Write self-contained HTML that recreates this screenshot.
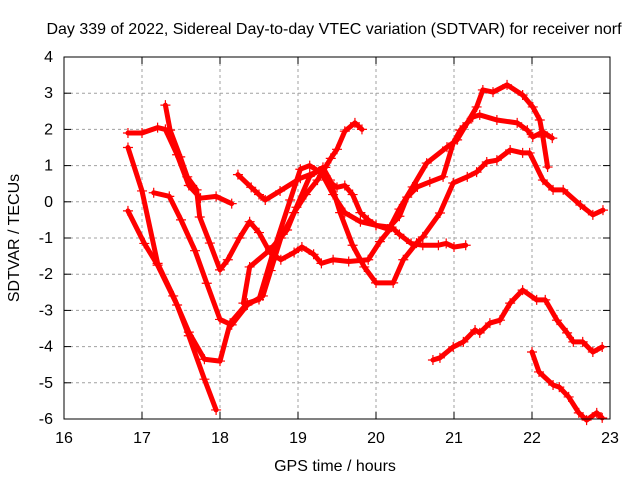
<!DOCTYPE html>
<html><head><meta charset="utf-8"><style>
body{margin:0;background:#fff}
svg text{font-family:"Liberation Sans",sans-serif;font-size:16px;fill:#000}
</style></head><body>
<svg id="chart" width="640" height="480" xmlns="http://www.w3.org/2000/svg">
<rect width="640" height="480" fill="#fff"/>
<text x="334" y="34" text-anchor="middle">Day 339 of 2022, Sidereal Day-to-day VTEC variation (SDTVAR) for receiver norf</text>
<text x="335" y="471" text-anchor="middle">GPS time / hours</text>
<text transform="translate(19,238) rotate(-90)" text-anchor="middle">SDTVAR / TECUs</text>
<g id="grid"></g>
<g id="series"></g>
<rect x="64" y="57" width="546" height="362" fill="none" stroke="#000" stroke-width="1"/>
</svg>
<script>
const xTicks=[16,17,18,19,20,21,22,23];
const yTicks=[-6,-5,-4,-3,-2,-1,0,1,2,3,4];
const seriesA=[[16.82,1.9],[17.0,1.9],[17.2,2.05],[17.3,2.0],[17.45,1.3],[17.6,0.45],[17.75,0.1],[17.95,0.15],[18.15,-0.05]];
const seriesB=[[17.3,2.67],[17.36,1.98],[17.49,1.24],[17.58,0.69],[17.7,0.33],[17.74,-0.42],[17.87,-1.14],[18.0,-1.88],[18.1,-1.6],[18.25,-1.0],[18.38,-0.55],[18.5,-0.85],[18.64,-1.4],[18.78,-1.6],[18.95,-1.4],[19.05,-1.25],[19.2,-1.45],[19.3,-1.7],[19.45,-1.6],[19.65,-1.65],[19.9,-1.6],[20.05,-1.1],[20.2,-0.7],[20.3,-0.9],[20.45,-1.15],[20.6,-1.2],[20.8,-1.2],[20.9,-1.15],[21.0,-1.25],[21.15,-1.2]];
const seriesC=[[16.82,1.5],[17.0,0.3],[17.2,-1.7],[17.4,-2.6],[17.6,-3.6],[17.8,-4.35],[18.0,-4.4],[18.13,-3.35],[18.35,-2.8],[18.5,-2.7],[18.68,-1.4],[18.9,0.05],[19.03,0.9],[19.15,1.0],[19.3,0.8],[19.45,0.2],[19.6,-0.3],[19.8,-0.55],[20.0,-0.65],[20.15,-0.75],[20.3,-0.4],[20.4,0.13],[20.53,0.41],[20.69,0.55],[20.86,0.69],[20.99,1.62],[21.08,1.98],[21.24,2.34],[21.33,2.4],[21.55,2.26],[21.81,2.18],[21.94,1.98],[22.01,1.79],[22.14,1.93],[22.26,1.76]];
const seriesD=[[16.82,-0.25],[17.03,-1.15],[17.2,-1.75],[17.45,-2.85],[17.6,-3.7],[17.8,-4.9],[17.95,-5.75]];
const seriesE=[[17.15,0.25],[17.35,0.15],[17.5,-0.5],[17.68,-1.35],[17.83,-2.25],[18.0,-3.25],[18.15,-3.4],[18.35,-2.85],[18.55,-2.6],[18.65,-1.9],[18.78,-1.0],[18.95,-0.3],[19.1,0.2],[19.25,0.6],[19.35,0.95],[19.42,1.2],[19.5,1.45],[19.6,1.95],[19.73,2.18],[19.82,2.0]];
const seriesF=[[18.23,0.75],[18.4,0.4],[18.5,0.2],[18.58,0.05],[18.77,0.3],[19.03,0.65],[19.15,0.75],[19.28,0.85],[19.4,0.55],[19.5,0.4],[19.6,0.45],[19.7,0.2],[19.8,-0.3],[19.9,-0.5],[20.0,-0.65],[20.18,-0.7],[20.3,-0.2],[20.47,0.41],[20.65,1.07],[20.91,1.51],[21.04,1.71],[21.17,2.18],[21.29,2.62],[21.37,3.09],[21.5,3.03],[21.68,3.23],[21.88,2.95],[22.01,2.62],[22.1,2.26],[22.14,1.79],[22.2,0.96]];
const seriesI=[[18.3,-2.8],[18.38,-1.8],[18.64,-1.33],[18.86,-0.78],[18.98,-0.15],[19.15,0.7],[19.32,0.95],[19.41,0.6],[19.54,-0.3],[19.7,-1.2],[19.85,-1.8],[20.0,-2.24],[20.22,-2.24],[20.35,-1.6],[20.52,-1.14],[20.6,-0.97],[20.82,-0.31],[20.99,0.52],[21.17,0.69],[21.29,0.82],[21.42,1.1],[21.55,1.15],[21.72,1.43],[21.88,1.35],[21.97,1.35],[22.14,0.6],[22.27,0.33],[22.4,0.33],[22.62,-0.09],[22.78,-0.36],[22.91,-0.23]];
const seriesJ=[[20.73,-4.37],[20.82,-4.31],[20.99,-4.01],[21.12,-3.87],[21.27,-3.54],[21.33,-3.62],[21.46,-3.35],[21.59,-3.27],[21.72,-2.8],[21.88,-2.44],[22.06,-2.71],[22.17,-2.71],[22.32,-3.27],[22.45,-3.62],[22.53,-3.87],[22.65,-3.87],[22.78,-4.15],[22.9,-4.01]];
const seriesK=[[22.0,-4.15],[22.09,-4.7],[22.27,-5.06],[22.35,-5.12],[22.47,-5.39],[22.6,-5.83],[22.7,-6.03],[22.83,-5.83],[22.9,-5.97]];
const allSeries=[seriesA,seriesB,seriesC,seriesD,seriesE,seriesF,seriesI,seriesJ,seriesK];
const X0=64,X1=610,Y0=419,Y1=57;
function xs(h){return X0+(h-16)/(23-16)*(X1-X0);}
function ys(v){return Y0-(v+6)/(4+6)*(Y0-Y1);}
const NS="http://www.w3.org/2000/svg";
const svg=document.getElementById('chart'),grid=document.getElementById('grid'),sg=document.getElementById('series');
function mk(tag,attrs,parent){const e=document.createElementNS(NS,tag);for(const k in attrs)e.setAttribute(k,attrs[k]);parent.appendChild(e);return e;}
xTicks.forEach(t=>{const x=xs(t);
 if(t>16&&t<23){const l=mk('line',{x1:x,y1:Y1,x2:x,y2:Y0,stroke:'#a0a0a0','stroke-dasharray':'3,3'},grid);}
 mk('line',{x1:x,y1:Y0,x2:x,y2:Y0-7,stroke:'#000'},grid);mk('line',{x1:x,y1:Y1,x2:x,y2:Y1+7,stroke:'#000'},grid);
 const tx=mk('text',{x:x,y:443,'text-anchor':'middle'},svg);tx.textContent=t;
 
 });
yTicks.forEach(t=>{const y=ys(t);
 if(t>-6&&t<4){const l=mk('line',{x1:X0,y1:y,x2:X1,y2:y,stroke:'#a0a0a0','stroke-dasharray':'3,3'},grid);}
 mk('line',{x1:X0,y1:y,x2:X0+7,y2:y,stroke:'#000'},grid);mk('line',{x1:X1,y1:y,x2:X1-7,y2:y,stroke:'#000'},grid);
 const tx=mk('text',{x:53,y:y+5,'text-anchor':'end'},svg);tx.textContent=t;
 
 });
allSeries.forEach((s,i)=>{
 const g=mk('g',{},sg);
 
 
 mk('polyline',{points:s.map(p=>xs(p[0])+','+ys(p[1])).join(' '),fill:'none',stroke:'#f00','stroke-width':5,'stroke-linejoin':'round','stroke-linecap':'round'},g);
 s.forEach(p=>{const x=xs(p[0]),y=ys(p[1]);
  const m=mk('path',{d:`M${x-5},${y}H${x+5}M${x},${y-5}V${y+5}`,stroke:'#f00','stroke-width':1.2},g);
  
  });
});
</script>
</body></html>
